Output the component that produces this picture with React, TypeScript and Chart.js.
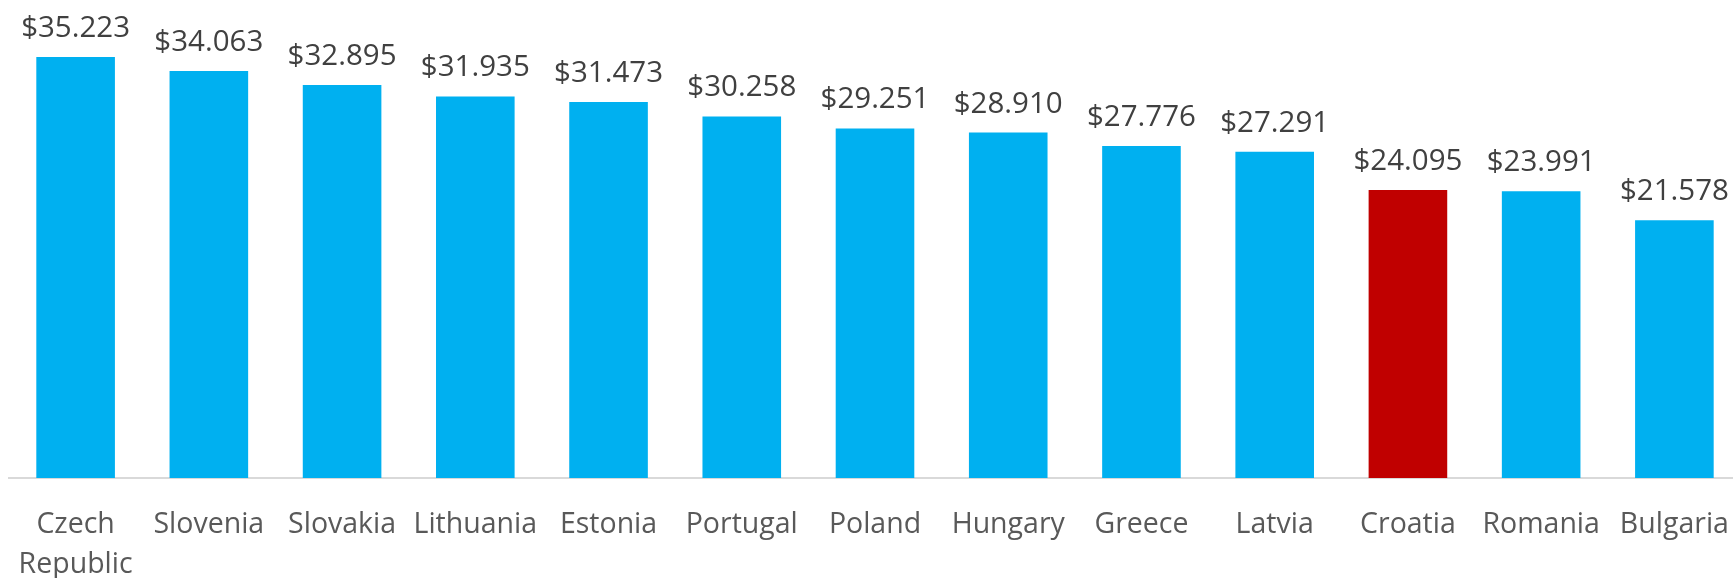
import React, { useEffect, useRef } from "react";
import { Chart, registerables } from "chart.js";

Chart.register(...registerables);

const categories: (string | string[])[] = [
  ["Czech", "Republic"], "Slovenia", "Slovakia", "Lithuania", "Estonia", "Portugal",
  "Poland", "Hungary", "Greece", "Latvia", "Croatia", "Romania", "Bulgaria",
];
const values = [35.223, 34.063, 32.895, 31.935, 31.473, 30.258, 29.251, 28.91, 27.776, 27.291, 24.095, 23.991, 21.578];
const highlighted = "Croatia";
const blue = "#00B0F0";
const red = "#C00000";

const labelPlugin = {
  id: "valueLabels",
  afterDatasetsDraw(chart: any) {
    const ctx = chart.ctx;
    const meta = chart.getDatasetMeta(0);
    ctx.save();
    ctx.font = "29.5px 'Open Sans'";
    ctx.fillStyle = "#404040";
    ctx.textAlign = "center";
    ctx.textBaseline = "alphabetic";
    meta.data.forEach((bar: any, i: number) => {
      ctx.fillText("$" + values[i].toFixed(3), bar.x, bar.y - 20);
    });
    ctx.restore();
  },
};

export default function App() {
  const ref = useRef<HTMLCanvasElement>(null);
  useEffect(() => {
    document.body.style.margin = "0";
    const chart = new Chart(ref.current!, {
      type: "bar",
      data: {
        labels: categories,
        datasets: [
          {
            data: values,
            backgroundColor: categories.map((c) => (c === highlighted ? red : blue)),
            categoryPercentage: 1,
            barPercentage: 0.59,
          },
        ],
      },
      options: {
        animation: false,
        responsive: false,
        layout: { padding: { left: 9, right: 0, top: 0, bottom: 0 } },
        plugins: { legend: { display: false }, tooltip: { enabled: false } },
        scales: {
          x: {
            grid: { display: false },
            border: { display: true, color: "#d9d9d9", width: 2 },
            afterFit: (scale: any) => {
              scale.height = 100;
              scale.paddingLeft = 0;
              scale.paddingRight = 0;
            },
            ticks: {
              color: "#595959",
              font: { family: "'Open Sans'", size: 28.5, lineHeight: 1.4 },
              padding: 19,
              maxRotation: 0,
              autoSkip: false,
            },
          },
          y: { display: false, min: 0, max: 40 },
        },
      },
      plugins: [labelPlugin],
    });
    return () => chart.destroy();
  }, []);
  return (
    <div style={{ width: 1733, height: 578, overflow: "hidden" }}>
      <canvas ref={ref} width={1741} height={578} style={{ display: "block" }} />
    </div>
  );
}
